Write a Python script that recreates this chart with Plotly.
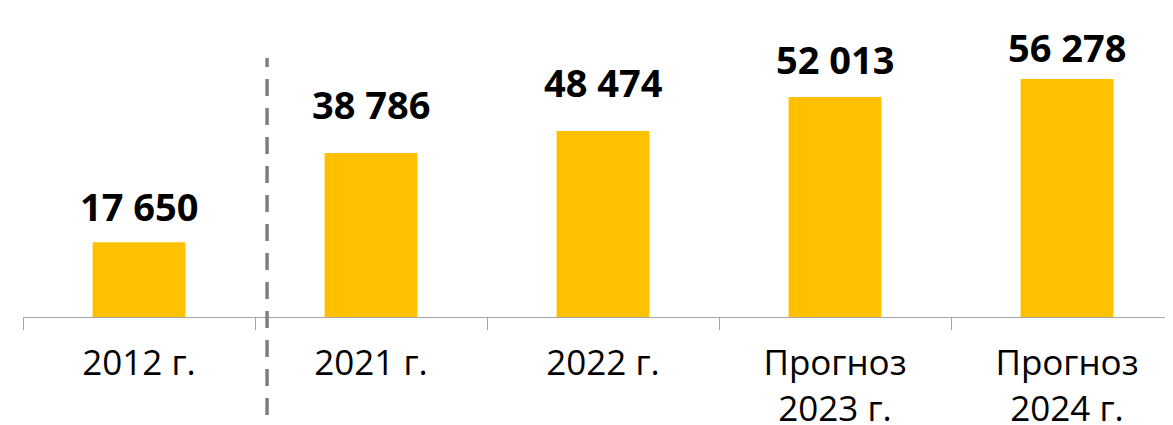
import plotly.graph_objects as go

categories = ["2012 г.", "2021 г.", "2022 г.", "Прогноз<br>2023 г.", "Прогноз<br>2024 г."]
# value labels printed on the chart
labels = ["17 650", "38 786", "48 474", "52 013", "56 278"]
# bar heights as drawn in the picture (the 2022 bar is drawn shorter than its label)
bar_heights = [17650, 38786, 43970, 52013, 56278]

# vertical offsets (px) of the value labels above the bars, as in the source layout
label_yshift = [8, 21, 21, 10, 4]

fig = go.Figure()
fig.add_trace(go.Bar(
    x=categories, y=bar_heights, width=0.4,
    marker=dict(color="#FFC000", line=dict(width=0)),
    hoverinfo="skip",
))

for c, v, t, s in zip(categories, bar_heights, labels, label_yshift):
    fig.add_annotation(
        x=c, y=v, text=f"<b>{t}</b>", showarrow=False,
        yanchor="bottom", yshift=s,
        font=dict(family="Open Sans", size=38, color="#000000"),
    )

# divider between historical and recent values
fig.add_shape(
    type="line", xref="x", yref="paper",
    x0=0.552, x1=0.552, y0=-0.317, y1=0.838,
    line=dict(color="#7F7F7F", width=3.5, dash="17px,12px"),
)

fig.update_layout(
    width=1165, height=417,
    margin=dict(l=15, r=0, t=0, b=108, autoexpand=False),
    paper_bgcolor="white", plot_bgcolor="white",
    showlegend=False,
    xaxis=dict(
        type="category",
        range=[-0.5, -0.5 + 1150 / 232],
        tickson="boundaries", ticks="outside", ticklen=12, tickwidth=1,
        tickcolor="#A6A6A6",
        showline=True, linecolor="#A6A6A6", linewidth=1,
        showgrid=False, zeroline=False,
        ticklabelstandoff=15,
        tickfont=dict(family="Open Sans", size=35, color="#000000"),
        automargin=False,
        fixedrange=True,
    ),
    yaxis=dict(
        range=[0, 73050], visible=False, showgrid=False, zeroline=False,
        fixedrange=True,
    ),
)

fig.write_html("out.html")
